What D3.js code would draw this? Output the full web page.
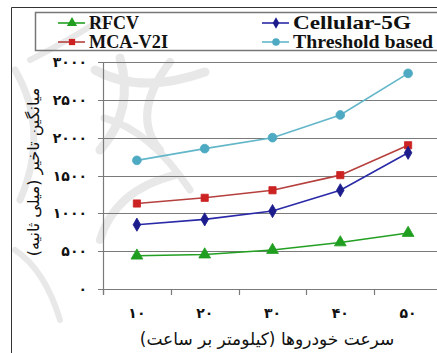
<!DOCTYPE html>
<html>
<head>
<meta charset="utf-8">
<script src="https://cdn.jsdelivr.net/npm/d3@7"></script>
<style>
  html, body { margin: 0; padding: 0; background: #fff; }
  svg { display: block; }
  .legend-label { font-family: "Liberation Serif", "Times New Roman", "DejaVu Serif", serif; font-weight: bold; }
  .fa { font-family: "DejaVu Sans", sans-serif; }
</style>
</head>
<body>
<svg id="chart" width="437" height="353"></svg>
<script>
// Vehicle speed categories (km/h) and their Persian tick labels
const speeds = [10, 20, 30, 40, 50];
const xTickLabels = ["۱۰", "۲۰", "۳۰", "۴۰", "۵۰"];

// Y ticks (ms) and their Persian labels
const yTicks = [0, 500, 1000, 1500, 2000, 2500, 3000];
const yTickLabels = ["۰", "۵۰۰", "۱۰۰۰", "۱۵۰۰", "۲۰۰۰", "۲۵۰۰", "۳۰۰۰"];

// Average delay per scheme (ms)
const rfcv = [440, 455, 515, 615, 740];
const mcaV2I = [1130, 1205, 1305, 1505, 1900];
const cellular5G = [850, 920, 1030, 1305, 1800];
const thresholdBased = [1700, 1855, 2000, 2300, 2850];

const seriesNames = ["RFCV", "MCA-V2I", "Cellular-5G", "Threshold based"];

const xTitle = "سرعت خودروها (کیلومتر بر ساعت)";
const yTitle = "میانگین تاخیر (میلی ثانیه)";

const series = [
  { name: seriesNames[0], values: rfcv, line: "#23a023", fill: "#1f9e1f", symbol: d3.symbolTriangle, size: 60 },
  { name: seriesNames[1], values: mcaV2I, line: "#b5403e", fill: "#cc2222", symbol: d3.symbolSquare, size: 52 },
  { name: seriesNames[2], values: cellular5G, line: "#2a2aa8", fill: "#1c1c8c", symbol: d3.symbolDiamond, size: 50 },
  { name: seriesNames[3], values: thresholdBased, line: "#62b6c9", fill: "#4eaac2", symbol: d3.symbolCircle, size: 60 }
];

const svg = d3.select("#chart");

const x = d3.scaleBand().domain(speeds).range([103, 442]).padding(0);
const y = d3.scaleLinear().domain([0, 3000]).range([289, 62]);

// Faint background ornament
const deco = svg.append("g")
  .attr("fill", "none")
  .attr("stroke", "#e8e8e8")
  .attr("stroke-linecap", "round");
deco.append("path").attr("stroke-width", 9)
  .attr("d", "M 95 70 Q 140 95 205 72");
deco.append("path").attr("stroke-width", 9)
  .attr("d", "M 100 150 Q 135 110 120 58");
deco.append("path").attr("stroke-width", 8)
  .attr("d", "M 160 150 Q 130 115 170 62");
deco.append("path").attr("stroke-width", 7)
  .attr("d", "M 104 118 Q 150 130 190 190");
deco.append("path").attr("stroke-width", 8)
  .attr("d", "M 100 240 Q 115 190 175 175");
deco.append("path").attr("stroke-width", 7)
  .attr("d", "M 15 70 Q 50 130 20 200");
deco.append("path").attr("stroke-width", 6)
  .attr("d", "M 30 60 Q 70 40 100 20");
deco.append("path").attr("stroke-width", 6)
  .attr("d", "M 15 250 Q 45 270 60 320");

// Outer frame
svg.append("path")
  .attr("d", "M 11.5 353 L 11.5 7.5 L 437 7.5")
  .attr("fill", "none").attr("stroke", "#333").attr("stroke-width", 1);

// Gridlines and y ticks
svg.append("g").selectAll("line").data(yTicks).join("line")
  .attr("x1", 98).attr("x2", 442)
  .attr("y1", d => Math.round(y(d)) + 0.5).attr("y2", d => Math.round(y(d)) + 0.5)
  .attr("stroke", "#7a7a7a").attr("stroke-width", 1.2);

// Y axis line
svg.append("line")
  .attr("x1", 103.5).attr("x2", 103.5).attr("y1", y(3000)).attr("y2", 295)
  .attr("stroke", "#7a7a7a").attr("stroke-width", 1.2);

// X ticks at category boundaries
const bounds = speeds.map(d => x(d)).concat([x.range()[1]]);
svg.append("g").selectAll("line").data(bounds).join("line")
  .attr("x1", d => Math.round(d) + 0.5).attr("x2", d => Math.round(d) + 0.5)
  .attr("y1", y(0)).attr("y2", 295)
  .attr("stroke", "#7a7a7a").attr("stroke-width", 1.2);

// Y tick labels
svg.append("g").selectAll("text").data(yTicks).join("text")
  .attr("class", "fa")
  .attr("x", 87).attr("y", d => y(d) + 5)
  .attr("text-anchor", "end")
  .attr("font-weight", "bold")
  .attr("font-size", 14)
  .attr("fill", "#111")
  .text((d, i) => yTickLabels[i]);

// X tick labels
svg.append("g").selectAll("text").data(speeds).join("text")
  .attr("class", "fa")
  .attr("x", d => x(d) + x.bandwidth() / 2)
  .attr("y", 318)
  .attr("text-anchor", "middle")
  .attr("font-weight", "bold")
  .attr("font-size", 14)
  .attr("fill", "#111")
  .text((d, i) => xTickLabels[i]);

// Axis titles
svg.append("text")
  .attr("class", "fa")
  .attr("x", 267).attr("y", 345)
  .attr("text-anchor", "middle")
  .attr("direction", "rtl")
  .attr("font-size", 17)
  .attr("fill", "#111")
  .text(xTitle);

svg.append("text")
  .attr("class", "fa")
  .attr("transform", "translate(39,172) rotate(-90)")
  .attr("text-anchor", "middle")
  .attr("direction", "rtl")
  .attr("font-size", 16)
  .attr("fill", "#111")
  .text(yTitle);

// Series lines and markers
const line = d3.line()
  .x((d, i) => x(speeds[i]) + x.bandwidth() / 2)
  .y(d => y(d));

series.forEach(s => {
  svg.append("path")
    .attr("d", line(s.values))
    .attr("fill", "none")
    .attr("stroke", s.line)
    .attr("stroke-width", 1.6);
  svg.append("g").selectAll("path").data(s.values).join("path")
    .attr("transform", (d, i) => `translate(${x(speeds[i]) + x.bandwidth() / 2},${y(d)})`)
    .attr("d", d3.symbol().type(s.symbol).size(s.size))
    .attr("fill", s.fill)
    .attr("stroke", s.fill)
    .attr("stroke-width", 0.8);
});

// Legend
svg.append("path")
  .attr("d", "M 437 12.5 L 35.5 12.5 L 35.5 50.5 L 437 50.5")
  .attr("fill", "none").attr("stroke", "#777").attr("stroke-width", 1.5);

const legendPos = [
  { x: 58, y: 23, w: 50 },
  { x: 58, y: 42, w: 79 },
  { x: 262, y: 23, w: 118 },
  { x: 262, y: 42, w: 140 }
];

series.forEach((s, i) => {
  const p = legendPos[i];
  const g = svg.append("g");
  g.append("line")
    .attr("x1", p.x).attr("x2", p.x + 27)
    .attr("y1", p.y).attr("y2", p.y)
    .attr("stroke", s.line).attr("stroke-width", 1.6);
  g.append("path")
    .attr("transform", `translate(${p.x + 14},${p.y})`)
    .attr("d", d3.symbol().type(s.symbol).size(s.size * 0.75))
    .attr("fill", s.fill);
  g.append("text")
    .attr("class", "legend-label")
    .attr("x", p.x + 31).attr("y", p.y + 6)
    .attr("font-size", 18)
    .attr("textLength", p.w)
    .attr("lengthAdjust", "spacingAndGlyphs")
    .attr("fill", "#111")
    .text(s.name);
});
</script>
</body>
</html>
